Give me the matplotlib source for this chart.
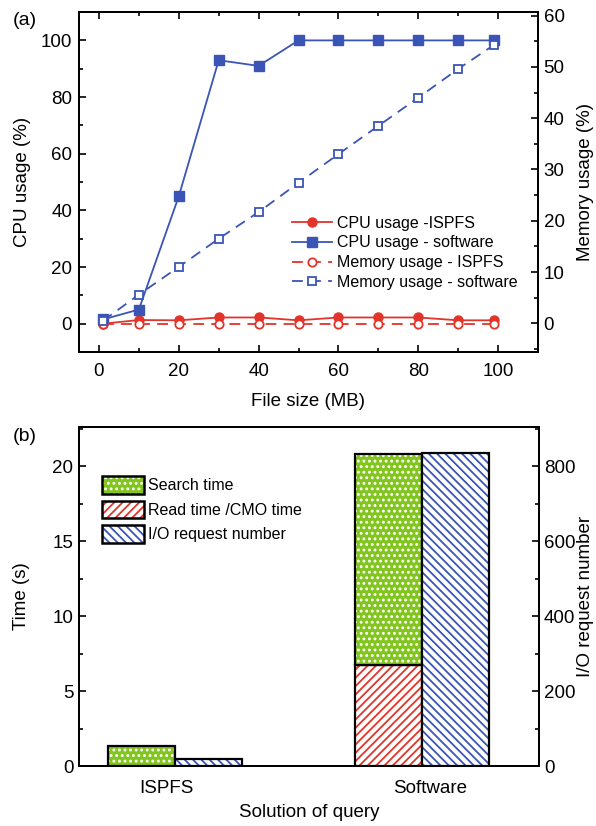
import numpy as np
import matplotlib
matplotlib.use("Agg")
import matplotlib.pyplot as plt
from matplotlib.patches import Patch
from matplotlib.ticker import MultipleLocator

# ---- data (a) ----
file_size = [1, 10, 20, 30, 40, 50, 60, 70, 80, 90, 99]
cpu_ispfs = [0.0, 1.3, 1.2, 2.2, 2.2, 1.2, 2.2, 2.2, 2.2, 1.2, 1.2]
cpu_soft = [1.5, 5, 45, 93, 91, 100, 100, 100, 100, 100, 100]
mem_ispfs = [-0.2, -0.2, -0.2, -0.2, -0.2, -0.2, -0.2, -0.2, -0.2, -0.2, -0.2]
mem_soft = [0.5, 5.6, 11.0, 16.5, 21.7, 27.4, 33.0, 38.5, 44.0, 49.6, 54.3]

# ---- data (b) ----
solutions = ["ISPFS", "Software"]
search_time = [1.33, 14.05]
read_time = [0.0, 6.75]
io_requests = [19, 835]

RED = "#e2342a"
BLUE = "#3a55b5"
GREEN = "#82c51f"

plt.rcParams["font.family"] = ["Liberation Sans", "DejaVu Sans"]
plt.rcParams["font.size"] = 13.5
plt.rcParams["axes.linewidth"] = 1.4
plt.rcParams["hatch.linewidth"] = 1.3

fig = plt.figure(figsize=(5.96, 8.26), dpi=100)

# ================= (a) =================
ax = fig.add_axes([0.1326, 0.5738, 0.770, 0.4116])
ax2 = ax.twinx()

l1, = ax.plot(file_size, cpu_ispfs, "-o", color=RED, lw=1.3, ms=6.5,
              label="CPU usage -ISPFS")
l2, = ax.plot(file_size, cpu_soft, "-s", color=BLUE, lw=1.3, ms=6.5,
              label="CPU usage - software")
l3, = ax2.plot(file_size, mem_ispfs, "--o", color=RED, lw=1.3, ms=6,
               mfc="white", mew=1.3, dashes=(6, 4), label="Memory usage - ISPFS")
l4, = ax2.plot(file_size, mem_soft, "--s", color=BLUE, lw=1.3, ms=6,
               mfc="white", mew=1.3, dashes=(6, 4), label="Memory usage - software")

ax.set_xlim(-5, 110)
ax.set_ylim(-10, 110)
ax2.set_ylim(-5.6, 60.7)
ax.set_xticks([0, 20, 40, 60, 80, 100])
ax.xaxis.set_minor_locator(MultipleLocator(10))
ax.set_yticks([0, 20, 40, 60, 80, 100])
ax.yaxis.set_minor_locator(MultipleLocator(10))
ax2.set_yticks([0, 10, 20, 30, 40, 50, 60])
ax2.yaxis.set_minor_locator(MultipleLocator(5))

ax.tick_params(which="both", direction="in", top=True, width=1.2)
ax.tick_params(which="major", length=5, pad=5)
ax.tick_params(axis="x", which="major", pad=8)
ax.tick_params(which="minor", length=3)
ax2.tick_params(which="both", direction="in", width=1.2)
ax2.tick_params(which="major", length=5, pad=4)
ax2.tick_params(which="minor", length=3)

ax.set_xlabel("File size (MB)", labelpad=9)
ax.set_ylabel("CPU usage (%)", labelpad=7)
ax2.set_ylabel("Memory usage (%)", labelpad=9)

ax2.legend([l1, l2, l3, l4], [l.get_label() for l in [l1, l2, l3, l4]],
           loc="upper left", bbox_to_anchor=(0.45, 0.42), frameon=False,
           fontsize=11.5, handlelength=2.5, handletextpad=0.35,
           labelspacing=0.3, borderaxespad=0)

fig.text(0.022, 0.975, "(a)", fontsize=14, va="center")

# ================= (b) =================
bx = fig.add_axes([0.1326, 0.0726, 0.771, 0.4104])
bx2 = bx.twinx()

pos = np.arange(len(solutions))
w = 0.271


def hatched_bar(a, x, h, bottom, color, hatch, face="white"):
    a.bar(x, h, w, bottom=bottom, color=face, edgecolor=color, hatch=hatch,
          linewidth=0, align="edge")
    a.bar(x, h, w, bottom=bottom, fill=False, edgecolor="black",
          linewidth=1.6, align="edge")


for i in range(len(solutions)):
    if read_time[i] > 0:
        hatched_bar(bx, pos[i] - w, read_time[i], 0, RED, "////")
    hatched_bar(bx, pos[i] - w, search_time[i], read_time[i], "white", "...", face=GREEN)
    hatched_bar(bx2, pos[i], io_requests[i], 0, BLUE, "\\\\\\\\")

bx.set_xlim(-0.387, 1.473)
bx.set_ylim(0, 22.6)
bx2.set_ylim(0, 904)
bx.set_xticks(pos + np.array([-0.035, 0.035]))
bx.set_xticklabels(solutions)
bx.set_yticks([0, 5, 10, 15, 20])
bx.yaxis.set_minor_locator(MultipleLocator(2.5))
bx2.set_yticks([0, 200, 400, 600, 800])
bx2.yaxis.set_minor_locator(MultipleLocator(100))

bx.tick_params(axis="x", length=0, pad=10)
bx.tick_params(axis="y", which="both", direction="in", width=1.2)
bx.tick_params(axis="y", which="major", length=5, pad=4)
bx.tick_params(axis="y", which="minor", length=3)
bx2.tick_params(which="both", direction="in", width=1.2)
bx2.tick_params(which="major", length=5, pad=4)
bx2.tick_params(which="minor", length=3)

bx.set_xlabel("Solution of query", labelpad=5)
bx.set_ylabel("Time (s)", labelpad=16)
bx2.set_ylabel("I/O request number", labelpad=1)

h_search = (Patch(facecolor=GREEN, edgecolor="white", hatch="...", linewidth=0),
            Patch(fill=False, edgecolor="black", linewidth=1.8))
h_read = (Patch(facecolor="white", edgecolor=RED, hatch="////", linewidth=0),
          Patch(fill=False, edgecolor="black", linewidth=1.8))
h_io = (Patch(facecolor="white", edgecolor=BLUE, hatch="\\\\\\\\", linewidth=0),
        Patch(fill=False, edgecolor="black", linewidth=1.8))
bx2.legend([h_search, h_read, h_io],
           ["Search time", "Read time /CMO time", "I/O request number"],
           loc="upper left", bbox_to_anchor=(0.05, 0.855), frameon=False,
           fontsize=11.5, handlelength=2.6, handleheight=1.3,
           handletextpad=0.3, labelspacing=0.45, borderaxespad=0, borderpad=0)

fig.text(0.022, 0.471, "(b)", fontsize=14, va="center")

fig.savefig("out.png", dpi=100)
